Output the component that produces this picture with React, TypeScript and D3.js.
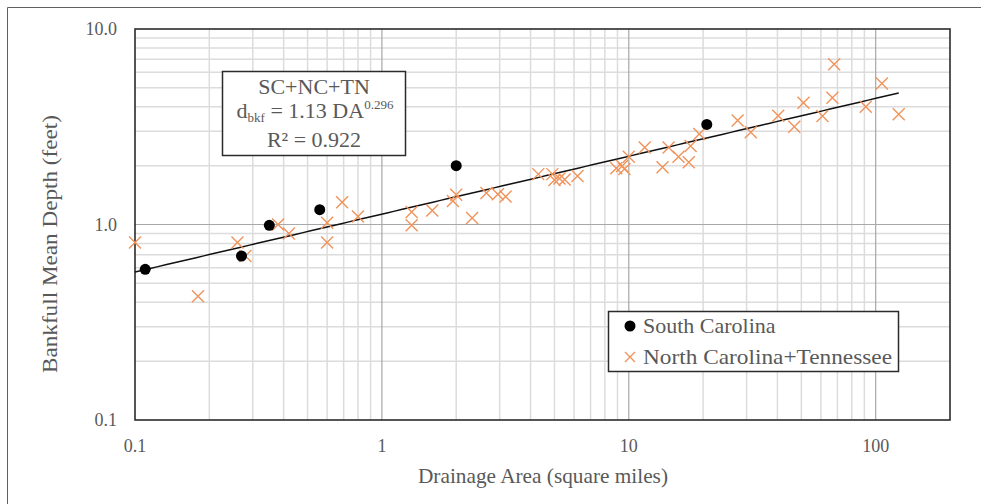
import React from "react";
import * as d3 from "d3";

// South Carolina reference reaches
const scArea = [0.11, 0.27, 0.35, 0.56, 2.0, 20.7];
const scDepth = [0.59, 0.69, 0.99, 1.19, 2.0, 3.25];

// North Carolina + Tennessee reference reaches
const ncArea = [
  0.1, 0.18, 0.26, 0.28, 0.38, 0.42, 0.6, 0.6, 0.69, 0.8,
  1.32, 1.32, 1.6, 1.94, 2.0, 2.32, 2.65, 2.95, 3.17,
  4.3, 4.9, 5.0, 5.24, 5.5, 6.2, 8.9, 9.4, 9.6,
  10.0, 11.6, 13.7, 14.5, 15.9, 17.5, 17.8, 19.3,
  27.6, 31.2, 40.3, 46.8, 51.0, 60.9, 66.8, 67.9, 91.2, 106, 124,
];
const ncDepth = [
  0.81, 0.43, 0.81, 0.69, 1.0, 0.9, 1.02, 0.81, 1.3, 1.1,
  1.16, 0.99, 1.18, 1.32, 1.42, 1.08, 1.45, 1.43, 1.39,
  1.81, 1.81, 1.69, 1.72, 1.7, 1.77, 1.94, 1.99, 1.92,
  2.22, 2.48, 1.96, 2.48, 2.22, 2.08, 2.52, 2.9,
  3.4, 2.96, 3.6, 3.16, 4.2, 3.59, 4.45, 6.6, 4.0, 5.27, 3.66,
];

// Power-law regression d = a * DA^b
const coefA = 1.13;
const coefB = 0.296;
const rSquared = 0.922;

const xTickValues = [0.1, 1, 10, 100];
const xTickLabels = ["0.1", "1", "10", "100"];
const yTickValues = [0.1, 1, 10];
const yTickLabels = ["0.1", "1.0", "10.0"];

const seriesNames = ["South Carolina", "North Carolina+Tennessee"];

const W = 981;
const H = 504;
const plot = { left: 135, right: 950, top: 29, bottom: 420 };
const FONT = "'Liberation Serif', 'Times New Roman', serif";
const TEXT = "#595959";
const ORANGE = "#F0935A";

function Cross({ cx, cy, s }: { cx: number; cy: number; s: number }) {
  return (
    <path
      d={`M${cx - s},${cy - s}L${cx + s},${cy + s}M${cx - s},${cy + s}L${cx + s},${cy - s}`}
      stroke={ORANGE}
      strokeWidth={1.4}
      fill="none"
    />
  );
}

export default function App() {
  const x = d3.scaleLog().domain([0.1, 200]).range([plot.left, plot.right]);
  const y = d3.scaleLog().domain([0.1, 10]).range([plot.bottom, plot.top]);

  const isDecade = (v: number) => Math.abs(Math.log10(v) - Math.round(Math.log10(v))) < 1e-9;
  const xGrid = x.ticks().filter((v) => v > 0.1 && v < 200);
  const yGrid = y.ticks().filter((v) => v > 0.1 && v < 10);

  const minA = d3.min(ncArea.concat(scArea)) as number;
  const maxA = d3.max(ncArea.concat(scArea)) as number;
  const trendPts = d3.range(0, 101).map((i) => {
    const a = minA * Math.pow(maxA / minA, i / 100);
    return [a, coefA * Math.pow(a, coefB)] as [number, number];
  });
  const trend = d3
    .line<[number, number]>()
    .x((d) => x(d[0]))
    .y((d) => y(d[1]))(trendPts);

  return (
    <div style={{ position: "absolute", left: 0, top: 0 }}>
      <svg width={W} height={H} style={{ display: "block", background: "#fff" }} fontFamily={FONT}>
        <rect x={0} y={0} width={W} height={H} fill="#fff" />
        {/* outer chart frame */}
        <path d={`M7.5,${H}V7.5H${W}`} stroke="#606060" strokeWidth={1} fill="none" />

        {/* minor grid */}
        {xGrid
          .filter((v) => !isDecade(v))
          .map((v, i) => (
            <line key={"xm" + i} x1={x(v)} x2={x(v)} y1={plot.top} y2={plot.bottom} stroke="#DCDCDC" strokeWidth={1.5} />
          ))}
        {yGrid
          .filter((v) => !isDecade(v))
          .map((v, i) => (
            <line key={"ym" + i} x1={plot.left} x2={plot.right} y1={y(v)} y2={y(v)} stroke="#DCDCDC" strokeWidth={1.5} />
          ))}
        {/* major grid */}
        {xGrid.filter(isDecade).map((v, i) => (
          <line key={"xM" + i} x1={x(v)} x2={x(v)} y1={plot.top} y2={plot.bottom} stroke="#A8A8A8" strokeWidth={1.2} />
        ))}
        {yGrid.filter(isDecade).map((v, i) => (
          <line key={"yM" + i} x1={plot.left} x2={plot.right} y1={y(v)} y2={y(v)} stroke="#A8A8A8" strokeWidth={1.2} />
        ))}

        {/* plot border */}
        <rect
          x={plot.left}
          y={plot.top}
          width={plot.right - plot.left}
          height={plot.bottom - plot.top}
          fill="none"
          stroke="#2b2b2b"
          strokeWidth={1.6}
        />

        {/* tick labels */}
        {xTickValues.map((v, i) => (
          <text key={"xt" + i} x={x(v)} y={452} textAnchor="middle" fontSize={18} fill={TEXT}>
            {xTickLabels[i]}
          </text>
        ))}
        {yTickValues.map((v, i) => (
          <text key={"yt" + i} x={117} y={y(v)} dy="0.35em" textAnchor="end" fontSize={18} fill={TEXT}>
            {yTickLabels[i]}
          </text>
        ))}

        {/* axis titles */}
        <text x={543} y={483} textAnchor="middle" fontSize={21} fill={TEXT} textLength={250} lengthAdjust="spacingAndGlyphs">
          Drainage Area (square miles)
        </text>
        <text
          transform="translate(57,244) rotate(-90)"
          textAnchor="middle"
          fontSize={22}
          fill={TEXT}
          textLength={258}
          lengthAdjust="spacingAndGlyphs"
        >
          Bankfull Mean Depth (feet)
        </text>

        {/* regression line */}
        <path d={trend ?? ""} stroke="#111" strokeWidth={1.5} fill="none" />

        {/* NC+TN points */}
        {ncArea.map((a, i) => (
          <Cross key={"nc" + i} cx={x(a)} cy={y(ncDepth[i])} s={6} />
        ))}
        {/* SC points */}
        {scArea.map((a, i) => (
          <circle key={"sc" + i} cx={x(a)} cy={y(scDepth[i])} r={5.5} fill="#000" />
        ))}

        {/* equation box */}
        <rect x={222.5} y={71.5} width={183} height={84} fill="#fff" stroke="#2b2b2b" strokeWidth={1.5} />
        <text x={314} y={94} textAnchor="middle" fontSize={22} fill={TEXT}>
          SC+NC+TN
        </text>
        <text x={315} y={118} textAnchor="middle" fontSize={22} fill={TEXT}>
          <tspan>d</tspan>
          <tspan fontSize={13} dy={4}>bkf</tspan>
          <tspan dy={-4}>{` = ${coefA.toFixed(2)} DA`}</tspan>
          <tspan fontSize={13} dy={-9}>{coefB.toFixed(3)}</tspan>
        </text>
        <text x={314} y={147} textAnchor="middle" fontSize={22} fill={TEXT}>
          {`R² = ${rSquared.toFixed(3)}`}
        </text>

        {/* legend */}
        <rect x={608.5} y={311.5} width={290} height={60} fill="#fff" stroke="#2b2b2b" strokeWidth={1.5} />
        <circle cx={630} cy={326} r={5.5} fill="#000" />
        <text x={643} y={333} fontSize={22} fill={TEXT}>
          {seriesNames[0]}
        </text>
        <Cross cx={630} cy={357} s={5} />
        <text x={643} y={364} fontSize={22} fill={TEXT} textLength={249} lengthAdjust="spacingAndGlyphs">
          {seriesNames[1]}
        </text>
      </svg>
    </div>
  );
}
